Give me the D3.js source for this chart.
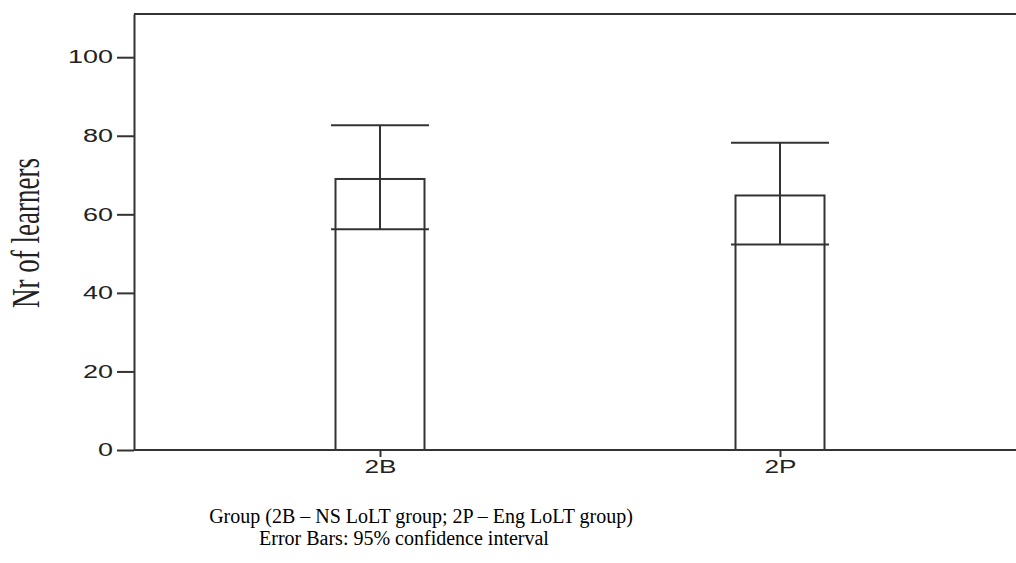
<!DOCTYPE html>
<html>
<head>
<meta charset="utf-8">
<script src="https://cdn.jsdelivr.net/npm/d3@7"></script>
<style>
  body { margin: 0; background: #fff; }
  svg { display: block; }
</style>
</head>
<body>
<div id="chart"></div>
<script>
// data
var groups = ["2B", "2P"];
var means = [69, 64.8];
var ciLow = [56.2, 52.3];
var ciHigh = [82.7, 78.2];
var yTicks = [0, 20, 40, 60, 80, 100];

var width = 1016, height = 563;
var margin = {left: 134, top: 14, bottom: 113};

var svg = d3.select("#chart")
    .append("svg")
    .attr("width", width)
    .attr("height", height);

// y scale
var y = d3.scaleLinear()
    .domain([0, 111])
    .range([height - margin.bottom, margin.top]);

// x scale, plot runs a bit past the right edge
var x = d3.scalePoint()
    .domain(groups)
    .range([margin.left, 1026])
    .padding(0.615);

var step = x.step();
var barW = step * 0.2225;
var capW = step * 0.245;
var lineColor = "#333";

// frame top line
svg.append("line")
    .attr("x1", margin.left).attr("x2", width)
    .attr("y1", y(111)).attr("y2", y(111))
    .attr("stroke", lineColor).attr("stroke-width", 2);

// Y axis
var yAxis = svg.append("g")
    .attr("transform", "translate(" + margin.left + ",0)")
    .call(d3.axisLeft(y).tickValues(yTicks).tickSize(17).tickSizeOuter(0).tickPadding(4));
yAxis.select(".domain").attr("stroke", lineColor).attr("stroke-width", 2);
yAxis.selectAll(".tick line").attr("stroke", lineColor).attr("stroke-width", 2);
yAxis.selectAll(".tick text")
    .attr("fill", "#222")
    .style("font-family", "Liberation Sans, Arial, sans-serif")
    .style("font-size", "18px")
    .attr("textLength", function (d) { return String(d).length * 15; })
    .attr("lengthAdjust", "spacingAndGlyphs");

// X axis
var xAxis = svg.append("g")
    .attr("transform", "translate(0," + y(0) + ")")
    .call(d3.axisBottom(x).tickSize(7).tickSizeOuter(0).tickPadding(3));
xAxis.select(".domain")
    .attr("d", "M" + margin.left + ",0H" + width)
    .attr("stroke", lineColor).attr("stroke-width", 2);
xAxis.selectAll(".tick line").attr("stroke", lineColor).attr("stroke-width", 2);
xAxis.selectAll(".tick text")
    .attr("fill", "#222")
    .style("font-family", "Liberation Sans, Arial, sans-serif")
    .style("font-size", "18px")
    .attr("textLength", 32)
    .attr("lengthAdjust", "spacingAndGlyphs");

// bars
svg.append("g")
    .selectAll("rect")
    .data(groups)
    .enter()
    .append("rect")
    .attr("x", function (d) { return x(d) - barW / 2; })
    .attr("y", function (d, i) { return y(means[i]); })
    .attr("width", barW)
    .attr("height", function (d, i) { return y(0) - y(means[i]); })
    .attr("fill", "none")
    .attr("stroke", lineColor)
    .attr("stroke-width", 2);

// error bars
var err = svg.append("g")
    .selectAll("g")
    .data(groups)
    .enter()
    .append("g")
    .attr("stroke", lineColor)
    .attr("stroke-width", 2);
err.append("line")
    .attr("x1", function (d) { return x(d); })
    .attr("x2", function (d) { return x(d); })
    .attr("y1", function (d, i) { return y(ciLow[i]); })
    .attr("y2", function (d, i) { return y(ciHigh[i]); });
err.append("line")
    .attr("x1", function (d) { return x(d) - capW / 2; })
    .attr("x2", function (d) { return x(d) + capW / 2; })
    .attr("y1", function (d, i) { return y(ciHigh[i]); })
    .attr("y2", function (d, i) { return y(ciHigh[i]); });
err.append("line")
    .attr("x1", function (d) { return x(d) - capW / 2; })
    .attr("x2", function (d) { return x(d) + capW / 2; })
    .attr("y1", function (d, i) { return y(ciLow[i]); })
    .attr("y2", function (d, i) { return y(ciLow[i]); });

// Y label (condensed serif)
svg.append("text")
    .attr("transform", "translate(39,233) rotate(-90)")
    .attr("text-anchor", "middle")
    .attr("textLength", 150)
    .attr("lengthAdjust", "spacingAndGlyphs")
    .style("font-family", "Liberation Serif, Times New Roman, serif")
    .style("font-size", "40px")
    .attr("fill", "#222")
    .text("Nr of learners");

// X title lines
svg.append("text")
    .attr("x", 421)
    .attr("y", 523)
    .attr("text-anchor", "middle")
    .style("font-family", "Liberation Serif, Times New Roman, serif")
    .style("font-size", "20px")
    .attr("fill", "#000")
    .text("Group (2B \u2013 NS LoLT group; 2P \u2013 Eng LoLT group)");

svg.append("text")
    .attr("x", 404)
    .attr("y", 545)
    .attr("text-anchor", "middle")
    .style("font-family", "Liberation Serif, Times New Roman, serif")
    .style("font-size", "20px")
    .attr("fill", "#000")
    .text("Error Bars: 95% confidence interval");
</script>
</body>
</html>
